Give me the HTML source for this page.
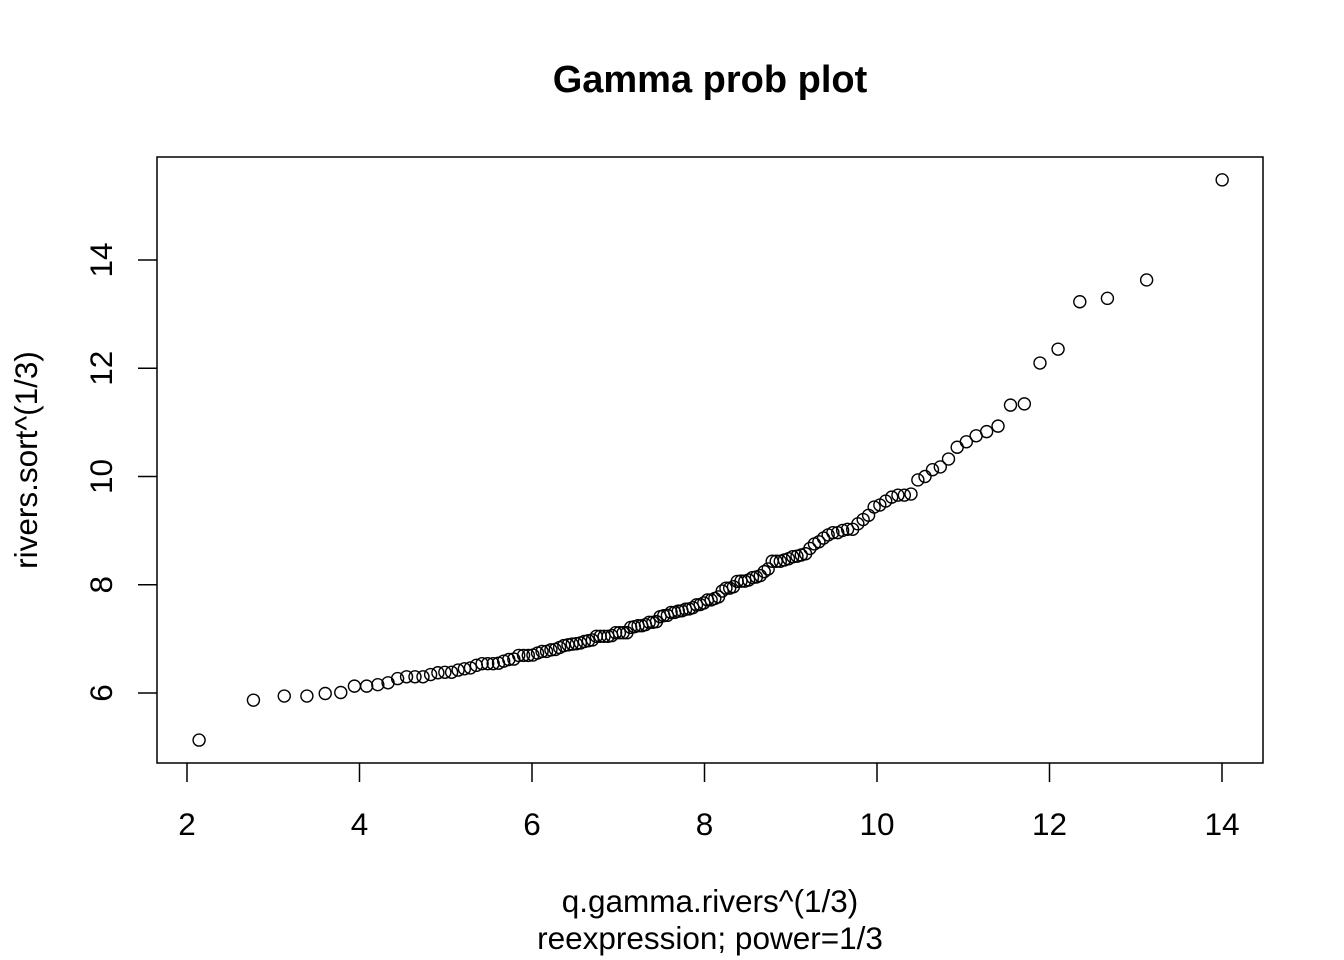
<!DOCTYPE html>
<html><head><meta charset="utf-8">
<style>
html,body{margin:0;padding:0;background:#fff;}
svg{display:block;font-family:"Liberation Sans",Arial,sans-serif;}
</style></head>
<body>
<svg id="chart" width="1344" height="960" viewBox="0 0 1344 960">
<text x="710" y="92" text-anchor="middle" font-size="38" font-weight="bold">Gamma prob plot</text>
<rect x="157" y="157" width="1106" height="606" fill="none" stroke="#000" stroke-width="1.5"/>
<g id="xaxis"></g>
<g id="yaxis"></g>
<g id="points"></g>
<text x="710" y="912" text-anchor="middle" font-size="31.5">q.gamma.rivers^(1/3)</text>
<text x="710" y="949" text-anchor="middle" font-size="31.5">reexpression; power=1/3</text>
<text transform="translate(37,460) rotate(-90)" text-anchor="middle" font-size="31.5">rivers.sort^(1/3)</text>
</svg>
<script>
const riverLengths = [735,320,325,392,524,450,1459,135,465,600,330,336,280,315,870,906,202,329,290,1000,600,505,1450,840,1243,890,350,407,286,280,525,720,390,250,327,230,265,850,210,630,260,230,360,730,600,306,390,420,291,710,340,217,281,352,259,250,470,680,570,350,300,560,900,625,332,2348,1171,3710,2315,2533,780,280,410,460,260,255,431,350,760,618,338,981,1306,500,696,605,250,411,1054,735,233,435,490,310,460,383,375,1270,545,445,1885,380,300,380,377,425,276,210,800,420,350,360,538,1100,1205,314,237,610,360,540,1038,424,310,300,444,301,268,620,215,652,900,525,246,360,529,500,720,270,430,671,1770];
const gammaShape = 1.44;
const gammaRate = 0.002425;
const xTicks = [2,4,6,8,10,12,14];
const yTicks = [6,8,10,12,14];

const NS = "http://www.w3.org/2000/svg";
const sx = v => 187 + (v - 2) * (1222 - 187) / 12;
const sy = v => 693 - (v - 6) * (693 - 260) / 8;

function lnGamma(z){
  const g=7,c=[0.99999999999980993,676.5203681218851,-1259.1392167224028,771.32342877765313,-176.61502916214059,12.507343278686905,-0.13857109526572012,9.9843695780195716e-6,1.5056327351493116e-7];
  if(z<0.5) return Math.log(Math.PI/Math.sin(Math.PI*z))-lnGamma(1-z);
  z-=1;let x=c[0];for(let i=1;i<g+2;i++)x+=c[i]/(z+i);
  const t=z+g+0.5;return 0.5*Math.log(2*Math.PI)+(z+0.5)*Math.log(t)-t+Math.log(x);
}
function pgammaStd(a,x){
  if(x<=0) return 0;
  let sum=1/a,term=1/a;
  for(let n=1;n<500;n++){term*=x/(a+n);sum+=term;if(term<sum*1e-14)break;}
  return sum*Math.exp(-x+a*Math.log(x)-lnGamma(a));
}
function qgamma(p,a,rate){
  let lo=0,hi=100;
  for(let i=0;i<200;i++){const m=(lo+hi)/2;if(pgammaStd(a,m)<p)lo=m;else hi=m;}
  return (lo+hi)/2/rate;
}

const n = riverLengths.length;
const ySorted = riverLengths.slice().sort((a,b)=>a-b).map(v=>Math.cbrt(v));
const xq = ySorted.map((_,i)=>Math.cbrt(qgamma((i+0.5)/n,gammaShape,gammaRate)));

const xa=document.getElementById('xaxis');
for(const t of xTicks){
  const l=document.createElementNS(NS,'line');
  l.setAttribute('x1',sx(t));l.setAttribute('x2',sx(t));l.setAttribute('y1',763);l.setAttribute('y2',782);
  l.setAttribute('stroke','#000');l.setAttribute('stroke-width','1.5');
  
  
  xa.appendChild(l);
  const tx=document.createElementNS(NS,'text');
  tx.setAttribute('x',sx(t));tx.setAttribute('y',835);tx.setAttribute('text-anchor','middle');tx.setAttribute('font-size','31.5');
  tx.textContent=t;
  
  
  xa.appendChild(tx);
}
const ya=document.getElementById('yaxis');
for(const t of yTicks){
  const l=document.createElementNS(NS,'line');
  l.setAttribute('y1',sy(t));l.setAttribute('y2',sy(t));l.setAttribute('x1',138);l.setAttribute('x2',157);
  l.setAttribute('stroke','#000');l.setAttribute('stroke-width','1.5');
  
  
  ya.appendChild(l);
  const tx=document.createElementNS(NS,'text');
  tx.setAttribute('transform','translate(112,'+sy(t)+') rotate(-90)');tx.setAttribute('text-anchor','middle');tx.setAttribute('font-size','31.5');
  tx.textContent=t;
  
  
  ya.appendChild(tx);
}
const pg=document.getElementById('points');
for(let i=0;i<n;i++){
  const c=document.createElementNS(NS,'circle');
  c.setAttribute('cx',sx(xq[i]));c.setAttribute('cy',sy(ySorted[i]));c.setAttribute('r',6);
  c.setAttribute('fill','none');c.setAttribute('stroke','#000');c.setAttribute('stroke-width','1.4');
  
  
  pg.appendChild(c);
}
</script>
</body></html>
